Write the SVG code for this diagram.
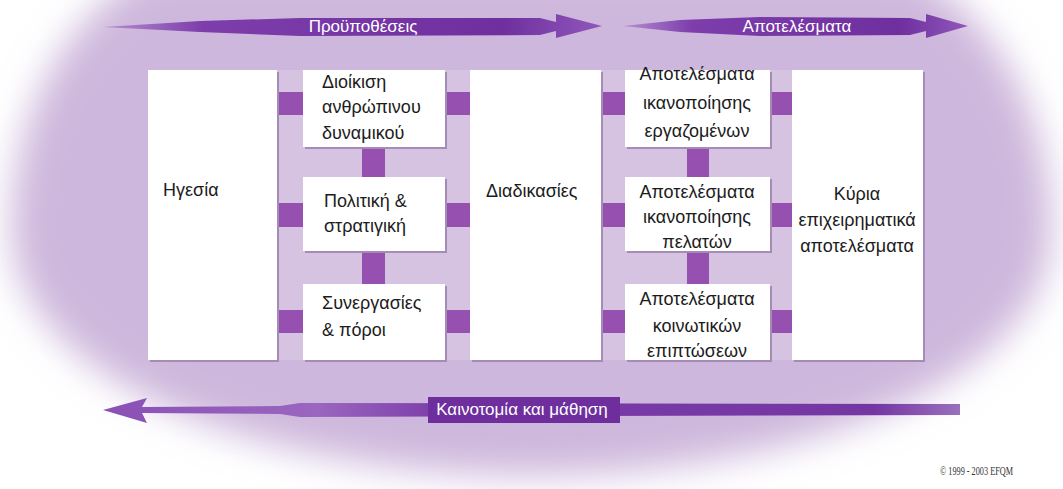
<svg xmlns="http://www.w3.org/2000/svg" width="1063" height="489" viewBox="0 0 1063 489">
<defs>
<filter id="blur" x="-10%" y="-20%" width="120%" height="140%"><feGaussianBlur stdDeviation="18"/></filter>
<linearGradient id="gTop" x1="0" y1="0" x2="1" y2="0">
<stop offset="0" stop-color="#b58fd0"/><stop offset="0.2" stop-color="#7d3dab"/><stop offset="0.8" stop-color="#6f2f9f"/><stop offset="1" stop-color="#9058bb"/>
</linearGradient>
<linearGradient id="gBot" x1="0" y1="0" x2="1" y2="0">
<stop offset="0" stop-color="#8a50b5"/><stop offset="0.25" stop-color="#9a66c0"/><stop offset="0.4" stop-color="#7a3ca8"/><stop offset="0.9" stop-color="#7436a3"/><stop offset="1" stop-color="#9a70bd"/>
</linearGradient>
<style>
.box{fill:#ffffff}
.sh{fill:#a58cb6}
.dk{fill:#9650b0}
.t{font-family:"Liberation Sans",Arial,sans-serif;font-size:18px;fill:#1c1c1c}
.c{text-anchor:middle}
.w{font-family:"Liberation Sans",Arial,sans-serif;font-size:17px;fill:#ffffff;text-anchor:middle}
</style>
</defs>
<rect width="1063" height="489" fill="#ffffff"/>
<path d="M12,230 C12,120 60,20 150,-30 L910,-30 C1000,20 1051,120 1051,230 C1051,380 800,475 531,475 C262,475 12,380 12,230 Z" fill="#ceb7dc" filter="url(#blur)"/>
<rect x="148" y="70" width="775" height="290" fill="#d6c3e2"/>

<g id="connectors">
<rect class="dk" x="277" y="92" width="27" height="23"/>
<rect class="dk" x="277" y="203" width="27" height="24"/>
<rect class="dk" x="277" y="310" width="27" height="23"/>
<rect class="dk" x="445" y="92" width="26" height="23"/>
<rect class="dk" x="445" y="203" width="26" height="24"/>
<rect class="dk" x="445" y="310" width="26" height="23"/>
<rect class="dk" x="601" y="92" width="25" height="23"/>
<rect class="dk" x="601" y="203" width="25" height="24"/>
<rect class="dk" x="601" y="310" width="25" height="23"/>
<rect class="dk" x="770" y="92" width="23" height="23"/>
<rect class="dk" x="770" y="203" width="23" height="24"/>
<rect class="dk" x="770" y="310" width="23" height="23"/>
<rect class="dk" x="362" y="147" width="23" height="30"/>
<rect class="dk" x="362" y="251" width="23" height="33"/>
<rect class="dk" x="687" y="147" width="22" height="30"/>
<rect class="dk" x="687" y="251" width="22" height="33"/>
</g>

<g id="arrow-top-left">
<path d="M103,27 L200,21 L300,18 L540,18 L556,22 L556,14 L602,26 L556,38 L556,31 L540,35 L300,36 L200,32 Z" fill="url(#gTop)"/>
<text class="w" x="363" y="32">Προϋποθέσεις</text>
</g>
<g id="arrow-top-right">
<path d="M623,26 L680,20 L760,17 L910,18 L926,22 L926,14 L968,26 L926,38 L926,31 L910,35 L760,36 L680,32 Z" fill="url(#gTop)"/>
<text class="w" x="797" y="32">Αποτελέσματα</text>
</g>
<g id="arrow-bottom">
<path d="M103,410 L147,398 L142,407 L280,406 L300,403 L960,404 L960,415 L300,417 L280,414 L142,413 L147,423 Z" fill="url(#gBot)"/>
<rect x="428" y="397" width="192" height="26" fill="#6e2e9d"/>
<text class="w" x="522" y="415">Καινοτομία και μάθηση</text>
</g>

<g id="n-leadership">
<rect class="sh" x="150" y="72" width="129" height="290"/>
<rect class="box" x="148" y="70" width="129" height="290"/>
<text class="t" x="163" y="196">Ηγεσία</text>
</g>
<g id="n-people">
<rect class="sh" x="305" y="72" width="142" height="77"/>
<rect class="box" x="303" y="70" width="142" height="77"/>
<text class="t" x="322" y="88">Διοίκιση</text>
<text class="t" x="322" y="113">ανθρώπινου</text>
<text class="t" x="322" y="139">δυναμικού</text>
</g>
<g id="n-policy">
<rect class="sh" x="305" y="179" width="142" height="74"/>
<rect class="box" x="303" y="177" width="142" height="74"/>
<text class="t" x="324" y="207">Πολιτική &amp;</text>
<text class="t" x="324" y="232">στρατιγική</text>
</g>
<g id="n-partnerships">
<rect class="sh" x="305" y="286" width="142" height="76"/>
<rect class="box" x="303" y="284" width="142" height="76"/>
<text class="t" x="322" y="309">Συνεργασίες</text>
<text class="t" x="322" y="336">&amp; πόροι</text>
</g>
<g id="n-processes">
<rect class="sh" x="472" y="72" width="131" height="290"/>
<rect class="box" x="470" y="70" width="131" height="290"/>
<text class="t" x="486" y="197">Διαδικασίες</text>
</g>
<g id="n-people-results">
<rect class="sh" x="627" y="72" width="145" height="77"/>
<rect class="box" x="625" y="70" width="145" height="77"/>
<text class="t c" x="697" y="80">Αποτελέσματα</text>
<text class="t c" x="697" y="109">ικανοποίησης</text>
<text class="t c" x="697" y="137">εργαζομένων</text>
</g>
<g id="n-customer-results">
<rect class="sh" x="627" y="179" width="145" height="74"/>
<rect class="box" x="625" y="177" width="145" height="74"/>
<text class="t c" x="697" y="198">Αποτελέσματα</text>
<text class="t c" x="697" y="223">ικανοποίησης</text>
<text class="t c" x="697" y="248">πελατών</text>
</g>
<g id="n-society-results">
<rect class="sh" x="627" y="286" width="145" height="76"/>
<rect class="box" x="625" y="284" width="145" height="76"/>
<text class="t c" x="697" y="305">Αποτελέσματα</text>
<text class="t c" x="697" y="332">κοινωτικών</text>
<text class="t c" x="697" y="357">επιπτώσεων</text>
</g>
<g id="n-key-results">
<rect class="sh" x="794" y="72" width="131" height="290"/>
<rect class="box" x="792" y="70" width="131" height="290"/>
<text class="t c" x="857" y="200">Κύρια</text>
<text class="t c" x="857" y="226">επιχειρηματικά</text>
<text class="t c" x="857" y="252">αποτελέσματα</text>
</g>
<text x="940" y="475" font-family="'Liberation Serif','Times New Roman',serif" font-size="13" fill="#333333" textLength="73" lengthAdjust="spacingAndGlyphs">© 1999 - 2003 EFQM</text>
</svg>
